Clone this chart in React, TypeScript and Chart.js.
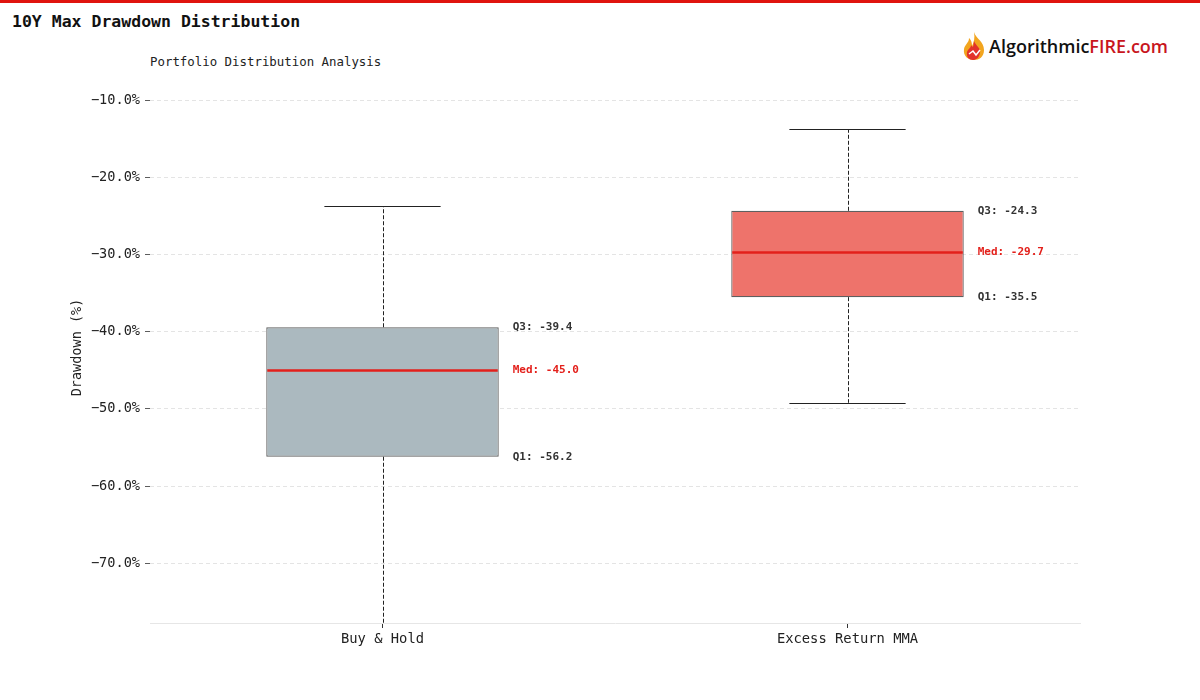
import React, { useEffect, useRef } from "react";
import { Chart, registerables } from "chart.js";

Chart.register(...registerables);

const categories = ["Buy & Hold", "Excess Return MMA"];
const whiskerLow = [-83.0, -49.2];
const q1 = [-56.2, -35.5];
const median = [-45.0, -29.7];
const q3 = [-39.4, -24.3];
const whiskerHigh = [-23.7, -13.75];
const boxColors = ["#abb9bf", "#ee736b"];
const yTicks = [-10, -20, -30, -40, -50, -60, -70];
const yMin = -77.76;
const yMax = -6.3;

const MONO = "'DejaVu Sans Mono', monospace";

const boxExtras = {
  id: "boxExtras",
  afterDatasetsDraw(chart: any) {
    const { ctx, chartArea } = chart;
    const xs = chart.scales.x;
    const ys = chart.scales.y;
    const meta = chart.getDatasetMeta(0);
    ctx.save();
    categories.forEach((_, i) => {
      const el = meta.data[i];
      const cx = xs.getPixelForValue(i);
      const half = el.width / 2;
      const capHalf = half / 2;
      const yLo = ys.getPixelForValue(whiskerLow[i]);
      const yQ1 = ys.getPixelForValue(q1[i]);
      const yMed = ys.getPixelForValue(median[i]);
      const yQ3 = ys.getPixelForValue(q3[i]);
      const yHi = ys.getPixelForValue(whiskerHigh[i]);
      ctx.save();
      ctx.beginPath();
      ctx.rect(chartArea.left, chartArea.top, chartArea.right - chartArea.left, chartArea.bottom - chartArea.top);
      ctx.clip();
      ctx.strokeStyle = "#222";
      ctx.lineWidth = 1;
      ctx.setLineDash([4, 2]);
      ctx.beginPath();
      ctx.moveTo(Math.round(cx) + 0.5, yQ1);
      ctx.lineTo(Math.round(cx) + 0.5, yLo);
      ctx.moveTo(Math.round(cx) + 0.5, yQ3);
      ctx.lineTo(Math.round(cx) + 0.5, yHi);
      ctx.stroke();
      ctx.setLineDash([]);
      ctx.beginPath();
      ctx.moveTo(cx - capHalf, Math.round(yLo) + 0.5);
      ctx.lineTo(cx + capHalf, Math.round(yLo) + 0.5);
      ctx.moveTo(cx - capHalf, Math.round(yHi) + 0.5);
      ctx.lineTo(cx + capHalf, Math.round(yHi) + 0.5);
      ctx.stroke();
      ctx.restore();
      ctx.strokeStyle = "#e3201b";
      ctx.lineWidth = 2.5;
      ctx.beginPath();
      ctx.moveTo(cx - half + 1, yMed);
      ctx.lineTo(cx + half - 1, yMed);
      ctx.stroke();
      const lx = cx + half + 14;
      ctx.font = `bold 11px ${MONO}`;
      ctx.textAlign = "left";
      ctx.textBaseline = "middle";
      ctx.fillStyle = "#333";
      ctx.fillText(`Q3: ${q3[i].toFixed(1)}`, lx, yQ3);
      ctx.fillText(`Q1: ${q1[i].toFixed(1)}`, lx, yQ1);
      ctx.fillStyle = "#e3201b";
      ctx.fillText(`Med: ${median[i].toFixed(1)}`, lx, yMed);
    });
    ctx.restore();
  },
};

export default function App() {
  const ref = useRef<HTMLCanvasElement>(null);
  useEffect(() => {
    if (!ref.current) return;
    const chart = new Chart(ref.current, {
      type: "bar",
      data: {
        labels: categories,
        datasets: [
          {
            data: categories.map((_, i) => [q1[i], q3[i]]) as any,
            backgroundColor: boxColors,
            borderColor: "#5f5f5f",
            borderWidth: 1.2,
            borderSkipped: false,
            barPercentage: 0.5,
            categoryPercentage: 1,
          },
        ],
      },
      options: {
        animation: false,
        responsive: false,
        maintainAspectRatio: false,
        layout: { padding: { top: 72, right: 120, left: 0, bottom: 0 } },
        plugins: { legend: { display: false }, tooltip: { enabled: false }, title: { display: false } },
        scales: {
          x: {
            grid: { display: true, offset: false, drawOnChartArea: false, drawTicks: true, tickLength: 5, tickColor: "#333" },
            border: { display: true, color: "#e6e6e6", width: 1 },
            ticks: { color: "#222", font: { family: MONO, size: 13.8 }, padding: 3 },
            afterFit(scale: any) {
              scale.height = 77;
            },
          },
          y: {
            min: yMin,
            max: yMax,
            afterBuildTicks(scale: any) {
              scale.ticks = yTicks.map((v) => ({ value: v }));
            },
            afterFit(scale: any) {
              scale.width = 150;
            },
            grid: { color: "#dddddd", lineWidth: 0.8, drawTicks: true, tickLength: 5, tickColor: "#333", tickBorderDash: [] },
            border: { display: false, dash: [4, 3] },
            ticks: {
              color: "#222",
              font: { family: MONO, size: 13.6 },
              padding: 5,
              callback: (v: any) => `\u2212${Math.abs(Number(v)).toFixed(1)}%`,
            },
            title: {
              display: true,
              text: "Drawdown (%)",
              color: "#222",
              font: { family: MONO, size: 13.5 },
              padding: { top: 69, bottom: 0 },
            },
          },
        },
      },
      plugins: [boxExtras],
    });
    return () => chart.destroy();
  }, []);

  return (
    <div style={{ position: "absolute", left: 0, top: 0, width: 1200, height: 700, background: "#fff", overflow: "hidden" }}>
      <div style={{ position: "absolute", left: 0, top: 0, width: 1200, height: 3, background: "#e0140f" }} />
      <div style={{ position: "absolute", left: 12, top: 11, fontFamily: MONO, fontWeight: "bold", fontSize: 16.5, color: "#111", lineHeight: "22px" }}>
        10Y Max Drawdown Distribution
      </div>
      <div style={{ position: "absolute", left: 150, top: 54, fontFamily: MONO, fontSize: 12.4, color: "#222", lineHeight: "16px" }}>
        Portfolio Distribution Analysis
      </div>
      <div style={{ position: "absolute", left: 960, top: 31, display: "flex", alignItems: "center" }}>
        <svg width="28" height="30" viewBox="0 0 28 30">
          <path d="M14 1 C16 8 24 10 24 19 C24 26 19 29 14 29 C8 29 3 25 4 18 C5 13 9 12 9 7 C12 10 12 13 12 15 C14 11 15 7 14 1 Z" fill="#f2a51f" />
          <path d="M14 10 C16 15 21 17 20 22 C19 27 16 29 13 29 C9 29 6 26 7 21 C8 18 11 17 11 14 C13 16 13 18 14 10 Z" fill="#e2332b" />
          <path d="M9 23 L13 20 L16 24 L20 19" stroke="#fff" strokeWidth="1.5" fill="none" />
        </svg>
        <span style={{ fontFamily: "'Open Sans', sans-serif", fontSize: 18, fontWeight: 600, color: "#111", marginLeft: 1 }}>
          Algorithmic<span style={{ color: "#c8161d" }}>FIRE.com</span>
        </span>
      </div>
      <canvas ref={ref} width={1200} height={700} style={{ position: "absolute", left: 0, top: 0, width: 1200, height: 700 }} />
    </div>
  );
}
